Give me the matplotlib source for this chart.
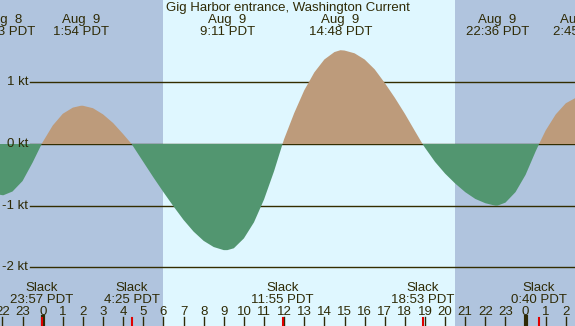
import numpy as np
import matplotlib
matplotlib.use("Agg")
import matplotlib.pyplot as plt

# current speed (kt), hours from midnight Aug 9 (PDT)
hours = [-2.5, -2.0, -1.95, -1.5, -1.0, -0.5, -0.05, 0.0, 0.5, 1.0, 1.5, 1.9,
         2.0, 2.5, 3.0, 3.5, 4.0, 4.42, 4.5, 5.0, 5.5, 6.0, 6.5, 7.0, 7.5,
         8.0, 8.5, 9.0, 9.18, 9.5, 10.0, 10.5, 11.0, 11.5, 11.92, 12.0, 12.5,
         13.0, 13.5, 14.0, 14.5, 14.8, 15.0, 15.5, 16.0, 16.5, 17.0, 17.5,
         18.0, 18.5, 18.88, 19.0, 19.5, 20.0, 20.5, 21.0, 21.5, 22.0, 22.5,
         22.6, 23.0, 23.5, 24.0, 24.5, 24.67, 25.0, 25.5, 26.0, 26.5, 26.75,
         27.0]
knots = [-0.80, -0.83, -0.83, -0.77, -0.60, -0.30, 0.0, 0.03, 0.30, 0.49,
         0.59, 0.62, 0.62, 0.58, 0.48, 0.34, 0.16, 0.0, -0.04, -0.29, -0.54,
         -0.78, -1.01, -1.23, -1.42, -1.57, -1.67, -1.72, -1.72, -1.69, -1.53,
         -1.27, -0.90, -0.44, 0.0, 0.08, 0.50, 0.87, 1.16, 1.37, 1.49, 1.52,
         1.515, 1.47, 1.37, 1.21, 0.99, 0.75, 0.49, 0.21, 0.0, -0.06, -0.29,
         -0.48, -0.64, -0.78, -0.89, -0.96, -1.0, -1.0, -0.95, -0.78, -0.50,
         -0.12, 0.0, 0.22, 0.48, 0.66, 0.75, 0.76, 0.75]

peak_hours = [-1.95, 1.9, 9.18, 14.8, 22.6, 26.75]
peak_dates = ["Aug  8", "Aug  9", "Aug  9", "Aug  9", "Aug  9", "Aug 10"]
peak_times = ["22:03 PDT", "1:54 PDT", "9:11 PDT", "14:48 PDT", "22:36 PDT", "2:45 PDT"]

slack_hours = [-0.05, 4.42, 11.92, 18.88, 24.67]
slack_times = ["23:57 PDT", "4:25 PDT", "11:55 PDT", "18:53 PDT", "0:40 PDT"]

sunrise = 5.98
sunset = 20.48
kt_levels = [1, 0, -1, -2]
tick_hours = list(range(-2, 27))

night = "#B0C4DE"
day = "#DFF7FF"
flood = "#BD9B7B"
ebb = "#529670"
ink = "#2E2A05"
line_c = "#332D00"

W, H = 575, 326
fig = plt.figure(figsize=(W / 100, H / 100), dpi=100)
ax = fig.add_axes([0, 0, 1, 1])
x0, ppx = 42.7, 20.12
y0, ppk = 144.0, 61.7
ax.set_xlim(-x0 / ppx, (W - x0) / ppx)
ax.set_ylim(-(H - y0) / ppk, y0 / ppk)
ax.axis("off")

plt.rcParams["font.family"] = ["Liberation Sans", "DejaVu Sans"]
fs = 9.5

ax.axvspan(-10, 40, color=night, lw=0, zorder=0)
ax.axvspan(sunrise, sunset, color=day, lw=0, zorder=0.5)

hx = np.array(hours)
kv = np.array(knots)
for lv in kt_levels:
    ax.plot([-0.63, 30], [lv, lv], color=line_c, lw=1.0, zorder=2)
    ax.text(-0.73, lv, "%d kt" % lv, ha="right", va="center", fontsize=fs, color=ink, zorder=5)
ax.fill_between(hx, kv, 0, where=kv >= 0, interpolate=True, color=flood, lw=0, zorder=3)
ax.fill_between(hx, kv, 0, where=kv <= 0, interpolate=True, color=ebb, lw=0, zorder=3)

tr = ax.get_xaxis_transform()
def ypx(p):
    return 1 - p / H

ax.text(0.5, ypx(8), "Gig Harbor entrance, Washington Current", transform=ax.transAxes,
        ha="center", va="center", fontsize=fs, color=ink)
for h, d, t in zip(peak_hours, peak_dates, peak_times):
    ax.text(h, ypx(20), d, transform=tr, ha="center", va="center", fontsize=fs, color=ink)
    ax.text(h, ypx(32), t, transform=tr, ha="center", va="center", fontsize=fs, color=ink)
for h, t in zip(slack_hours, slack_times):
    ax.text(h, ypx(288), "Slack", transform=tr, ha="center", va="center", fontsize=fs, color=ink)
    ax.text(h, ypx(300), t, transform=tr, ha="center", va="center", fontsize=fs, color=ink)

for h in tick_hours:
    ax.text(h, ypx(312), str(h % 24), transform=tr, ha="center", va="center", fontsize=fs, color=ink)
    lw = 3 if h % 24 == 0 else 1
    ax.plot([h, h], [ypx(317), 0], transform=tr, color=ink, lw=lw, zorder=4)
for h in slack_hours:
    ax.plot([h, h], [ypx(318), 0], transform=tr, color="#E00000", lw=1.5, zorder=5)

fig.savefig("out.png", dpi=100)
